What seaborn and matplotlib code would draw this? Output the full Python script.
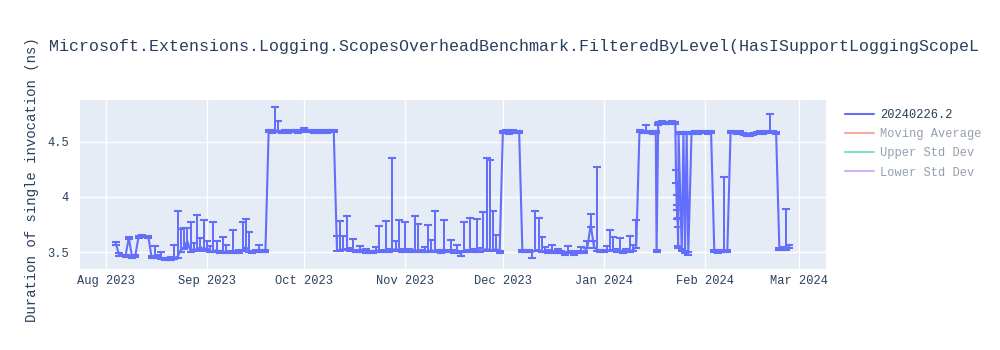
import matplotlib
matplotlib.use("Agg")
import matplotlib.pyplot as plt
import matplotlib.dates as mdates
from matplotlib.lines import Line2D
from matplotlib.ticker import FuncFormatter
import seaborn as sns
import pandas as pd

# ---------------- data ----------------
title_text = "Microsoft.Extensions.Logging.ScopesOverheadBenchmark.FilteredByLevel(HasISupportLoggingScopeL"
y_label = "Duration of single invocation (ns)"
series_name = "20240226.2"
legend_extra = ["Moving Average", "Upper Std Dev", "Lower Std Dev"]
y_ticks = [3.5, 4.0, 4.5]
x_ticks = ["2023-08-01", "2023-09-01", "2023-10-01", "2023-11-01", "2023-12-01",
           "2024-01-01", "2024-02-01", "2024-03-01"]

dates_aug = ["2023-08-04", "2023-08-05", "2023-08-07", "2023-08-08", "2023-08-09",
             "2023-08-10", "2023-08-11", "2023-08-12", "2023-08-14", "2023-08-15",
             "2023-08-16", "2023-08-17", "2023-08-18", "2023-08-19", "2023-08-20",
             "2023-08-21", "2023-08-22", "2023-08-23", "2023-08-24", "2023-08-25",
             "2023-08-26", "2023-08-27", "2023-08-28", "2023-08-29", "2023-08-30",
             "2023-08-31"]
values_aug = [3.58, 3.48, 3.47, 3.63, 3.46, 3.47, 3.64, 3.65, 3.64, 3.46,
              3.46, 3.47, 3.45, 3.44, 3.44, 3.44, 3.45, 3.46, 3.52, 3.55,
              3.60, 3.51, 3.53, 3.52, 3.55, 3.52]
hi_aug = [.01, .01, .01, .01, .01, .01, .01, .01, .01, .01,
          .10, .01, .05, .01, .01, .02, .12, .41, .19, .17,
          .12, .26, .05, .32, .08, .27]
lo_aug = [.01, .01, .01, .01, .01, .01, .01, .01, .01, .01,
          .01, .01, .01, .01, .01, .01, .01, .01, .02, .02,
          .05, .01, .01, .01, .02, .01]

dates_sep = ["2023-09-01", "2023-09-02", "2023-09-03", "2023-09-04", "2023-09-05",
             "2023-09-06", "2023-09-07", "2023-09-08", "2023-09-09", "2023-09-10",
             "2023-09-11", "2023-09-12", "2023-09-13", "2023-09-14", "2023-09-15",
             "2023-09-16", "2023-09-17", "2023-09-18", "2023-09-19", "2023-09-20",
             "2023-09-21", "2023-09-22", "2023-09-23", "2023-09-24", "2023-09-25",
             "2023-09-26", "2023-09-27", "2023-09-28", "2023-09-29", "2023-09-30"]
values_sep = [3.54, 3.51, 3.51, 3.52, 3.50, 3.51, 3.50, 3.50, 3.51, 3.50,
              3.50, 3.52, 3.55, 3.51, 3.50, 3.51, 3.51, 3.51, 3.51, 4.60,
              4.59, 4.60, 4.60, 4.59, 4.60, 4.59, 4.60, 4.60, 4.59, 4.60]
hi_sep = [.06, .05, .26, .08, .01, .13, .07, .01, .19, .01,
          .02, .25, .25, .17, .01, .01, .06, .01, .01, .01,
          .02, .21, .09, .01, .01, .01, .01, .01, .01, .01]
lo_sep = [.02, .01, .01, .01, .01, .01, .01, .01, .01, .01,
          .01, .01, .02, .01, .01, .01, .01, .01, .01, .01,
          .01, .01, .01, .01, .01, .01, .01, .01, .01, .01]

dates_oct = ["2023-10-01", "2023-10-02", "2023-10-03", "2023-10-04", "2023-10-05",
             "2023-10-06", "2023-10-07", "2023-10-08", "2023-10-09", "2023-10-10",
             "2023-10-11", "2023-10-12", "2023-10-13", "2023-10-14", "2023-10-15",
             "2023-10-16", "2023-10-17", "2023-10-18", "2023-10-19", "2023-10-20",
             "2023-10-21", "2023-10-22", "2023-10-23", "2023-10-24", "2023-10-25",
             "2023-10-26", "2023-10-27", "2023-10-28", "2023-10-29", "2023-10-30",
             "2023-10-31"]
values_oct = [4.61, 4.60, 4.60, 4.59, 4.60, 4.59, 4.60, 4.59, 4.60, 4.60,
              3.52, 3.52, 3.53, 3.53, 3.52, 3.52, 3.51, 3.51, 3.51, 3.50,
              3.50, 3.50, 3.51, 3.52, 3.51, 3.52, 3.51, 3.52, 3.53, 3.52, 3.51]
hi_oct = [.01, .01, .01, .01, .01, .01, .01, .01, .01, .01,
          .13, .26, .12, .30, .02, .10, .01, .05, .01, .03,
          .01, .01, .04, .22, .01, .26, .02, .83, .07, .27, .02]
lo_oct = [.01, .01, .01, .01, .01, .01, .01, .01, .01, .01,
          .01, .01, .01, .01, .01, .01, .01, .01, .01, .01,
          .01, .01, .01, .01, .01, .01, .01, .01, .01, .01, .01]

dates_nov = ["2023-11-01", "2023-11-02", "2023-11-03", "2023-11-04", "2023-11-05",
             "2023-11-06", "2023-11-07", "2023-11-08", "2023-11-09", "2023-11-10",
             "2023-11-11", "2023-11-12", "2023-11-13", "2023-11-14", "2023-11-15",
             "2023-11-16", "2023-11-17", "2023-11-18", "2023-11-19", "2023-11-20",
             "2023-11-21", "2023-11-22", "2023-11-23", "2023-11-24", "2023-11-25",
             "2023-11-26", "2023-11-27", "2023-11-28", "2023-11-29", "2023-11-30"]
values_nov = [3.52, 3.51, 3.51, 3.52, 3.51, 3.51, 3.51, 3.51, 3.52, 3.51,
              3.51, 3.50, 3.51, 3.51, 3.51, 3.50, 3.50, 3.49, 3.51, 3.51,
              3.52, 3.51, 3.52, 3.51, 3.52, 3.53, 3.52, 3.52, 3.53, 3.50]
hi_nov = [.25, .02, .01, .31, .25, .01, .04, .24, .09, .36,
          .01, .02, .28, .01, .10, .02, .07, .02, .26, .01,
          .29, .02, .28, .03, .34, .82, .81, .35, .13, .01]
lo_nov = [.01, .01, .01, .01, .01, .01, .01, .01, .01, .01,
          .01, .01, .01, .01, .01, .01, .01, .02, .01, .01,
          .01, .01, .01, .01, .01, .01, .01, .01, .01, .01]

dates_dec = ["2023-12-01", "2023-12-02", "2023-12-03", "2023-12-04", "2023-12-05",
             "2023-12-06", "2023-12-07", "2023-12-08", "2023-12-09", "2023-12-10",
             "2023-12-11", "2023-12-12", "2023-12-13", "2023-12-14", "2023-12-15",
             "2023-12-16", "2023-12-17", "2023-12-18", "2023-12-19", "2023-12-20",
             "2023-12-21", "2023-12-22", "2023-12-23", "2023-12-24", "2023-12-25",
             "2023-12-26", "2023-12-27", "2023-12-28", "2023-12-29", "2023-12-30",
             "2023-12-31"]
values_dec = [4.59, 4.60, 4.58, 4.60, 4.59, 4.59, 3.51, 3.51, 3.51, 3.50,
              3.52, 3.52, 3.51, 3.51, 3.50, 3.51, 3.50, 3.50, 3.50, 3.49,
              3.50, 3.50, 3.49, 3.50, 3.50, 3.50, 3.55, 3.75, 3.55, 3.52, 3.51]
hi_dec = [.01, .01, .01, .01, .01, .01, .01, .01, .01, .01,
          .35, .29, .13, .04, .02, .06, .01, .03, .01, .01,
          .06, .01, .01, .01, .05, .01, .05, .10, .05, .75, .01]
lo_dec = [.01, .01, .01, .01, .01, .01, .01, .01, .01, .05,
          .01, .01, .01, .01, .01, .01, .01, .01, .01, .01,
          .01, .01, .01, .01, .01, .01, .01, .02, .01, .01, .01]

dates_jan = ["2024-01-01", "2024-01-02", "2024-01-03", "2024-01-04", "2024-01-05",
             "2024-01-06", "2024-01-07", "2024-01-08", "2024-01-09", "2024-01-10",
             "2024-01-11", "2024-01-12", "2024-01-13", "2024-01-14", "2024-01-15",
             "2024-01-16",
             "2024-01-17 00:00", "2024-01-17 06:00", "2024-01-17 18:00",
             "2024-01-18", "2024-01-19", "2024-01-20", "2024-01-21", "2024-01-22",
             "2024-01-23 00:00", "2024-01-23 06:00", "2024-01-23 10:00",
             "2024-01-23 14:00", "2024-01-23 18:00", "2024-01-23 21:00",
             "2024-01-24",
             "2024-01-25 00:00", "2024-01-25 12:00", "2024-01-26 00:00", "2024-01-26 12:00",
             "2024-01-27", "2024-01-28", "2024-01-29", "2024-01-30", "2024-01-31"]
values_jan = [3.51, 3.52, 3.52, 3.52, 3.51, 3.51, 3.50, 3.51, 3.51, 3.52,
              3.55, 4.60, 4.59, 4.60, 4.59, 4.58,
              4.59, 3.51, 4.66,
              4.67, 4.68, 4.67, 4.67, 4.68,
              4.67, 4.15, 3.95, 3.82, 3.75, 3.55,
              4.58,
              3.52, 4.58, 3.50, 4.58,
              3.49, 4.58, 4.59, 4.58, 4.59]
hi_jan = [.01, .04, .18, .12, .02, .12, .01, .02, .14, .05,
          .24, .01, .01, .05, .01, .01,
          .01, .01, .01,
          .01, .01, .01, .01, .01,
          .01, .09, .07, .06, .06, .01,
          .01,
          .01, .01, .01, .01,
          .01, .01, .01, .01, .01]
lo_jan = [.01, .01, .01, .01, .01, .01, .01, .01, .01, .01,
          .01, .01, .01, .01, .01, .01,
          .01, .01, .01,
          .01, .01, .01, .01, .01,
          .01, .02, .02, .02, .02, .01,
          .01,
          .01, .01, .01, .01,
          .01, .01, .01, .01, .01]

dates_feb = ["2024-02-01", "2024-02-02", "2024-02-03", "2024-02-04", "2024-02-05",
             "2024-02-06", "2024-02-07", "2024-02-08", "2024-02-09", "2024-02-10",
             "2024-02-11", "2024-02-12", "2024-02-13", "2024-02-14", "2024-02-15",
             "2024-02-16", "2024-02-17", "2024-02-18", "2024-02-19", "2024-02-20",
             "2024-02-21", "2024-02-22", "2024-02-23", "2024-02-24", "2024-02-25",
             "2024-02-26", "2024-02-27"]
values_feb = [4.59, 4.58, 4.59, 3.51, 3.50, 3.51, 3.51, 3.51, 4.59, 4.59,
              4.58, 4.59, 4.57, 4.56, 4.56, 4.57, 4.58, 4.59, 4.58, 4.59,
              4.60, 4.59, 4.58, 3.53, 3.53, 3.53, 3.55]
hi_feb = [.01, .01, .01, .01, .01, .01, .67, .01, .01, .01,
          .01, .01, .01, .01, .01, .01, .01, .01, .01, .01,
          .15, .01, .01, .01, .02, .36, .02]
lo_feb = [.01, .01, .01, .01, .01, .01, .01, .01, .01, .01,
          .01, .01, .01, .01, .01, .01, .01, .01, .01, .01,
          .01, .01, .01, .01, .01, .01, .01]

dates = dates_aug + dates_sep + dates_oct + dates_nov + dates_dec + dates_jan + dates_feb
values = values_aug + values_sep + values_oct + values_nov + values_dec + values_jan + values_feb
err_hi = hi_aug + hi_sep + hi_oct + hi_nov + hi_dec + hi_jan + hi_feb
err_lo = lo_aug + lo_sep + lo_oct + lo_nov + lo_dec + lo_jan + lo_feb
assert len(dates) == len(values) == len(err_hi) == len(err_lo)

# ---------------- style ----------------
LINE = "#636EFA"
BG = "#E5ECF6"
TXT = "#2a3f5f"
FADED = ["#EF553B", "#00CC96", "#AB63FA"]

sns.set_theme(style="darkgrid", rc={"axes.facecolor": BG, "grid.color": "white",
                                     "grid.linewidth": 1.0})
plt.rcParams["font.family"] = ["Liberation Mono", "DejaVu Sans Mono"]

df = pd.DataFrame({"date": pd.to_datetime(dates, format="mixed"), "value": values,
                   "hi": err_hi, "lo": err_lo})

fig = plt.figure(figsize=(10, 3.5), dpi=100)
fig.patch.set_facecolor("white")
ax = fig.add_axes([0.080, 1 - 269 / 350, 0.746, 169 / 350])
ax.set_facecolor(BG)

ax.errorbar(df["date"], df["value"], yerr=[df["lo"], df["hi"]], fmt="none",
            ecolor=LINE, elinewidth=1.44, capsize=3.0, capthick=1.5, zorder=3)
sns.lineplot(data=df, x="date", y="value", ax=ax, color=LINE, linewidth=1.5,
             estimator=None, sort=False, legend=False, zorder=4)

ax.set_xlim(pd.Timestamp("2023-07-24"), pd.Timestamp("2024-03-09 08:00"))
ax.set_ylim(3.349, 4.877)
ax.set_xticks(pd.to_datetime(x_ticks))
ax.xaxis.set_major_formatter(mdates.DateFormatter("%b %Y"))
ax.set_yticks(y_ticks)
ax.yaxis.set_major_formatter(FuncFormatter(lambda v, p: f"{v:g}"))
ax.tick_params(axis="both", length=0, labelsize=8.64, colors=TXT)
ax.tick_params(axis="x", pad=4)
ax.tick_params(axis="y", pad=8)
ax.set_xlabel("")
ax.set_ylabel("")
ax.grid(True, color="white", linewidth=1.0)
for s in ax.spines.values():
    s.set_visible(False)

fig.text(0.049, 1 - 47 / 350, title_text, fontsize=11.95, color=TXT,
         ha="left", va="center")
fig.text(0.032, 1 - 180 / 350, y_label, fontsize=10.08, color=TXT,
         rotation=90, ha="center", va="center")

handles = [Line2D([0], [0], color=LINE, lw=1.5)]
handles += [Line2D([0], [0], color=c, lw=1.5, alpha=0.5) for c in FADED]
labels = [series_name] + legend_extra
leg = fig.legend(handles, labels, loc="upper left", bbox_to_anchor=(0.845, 1 - 109 / 350),
                 frameon=False, fontsize=8.64, handlelength=2.4, handletextpad=0.5,
                 labelspacing=0.6, borderaxespad=0, borderpad=0)
for i, t in enumerate(leg.get_texts()):
    t.set_color(TXT)
    if i > 0:
        t.set_alpha(0.5)

fig.savefig("out.png", dpi=100)
